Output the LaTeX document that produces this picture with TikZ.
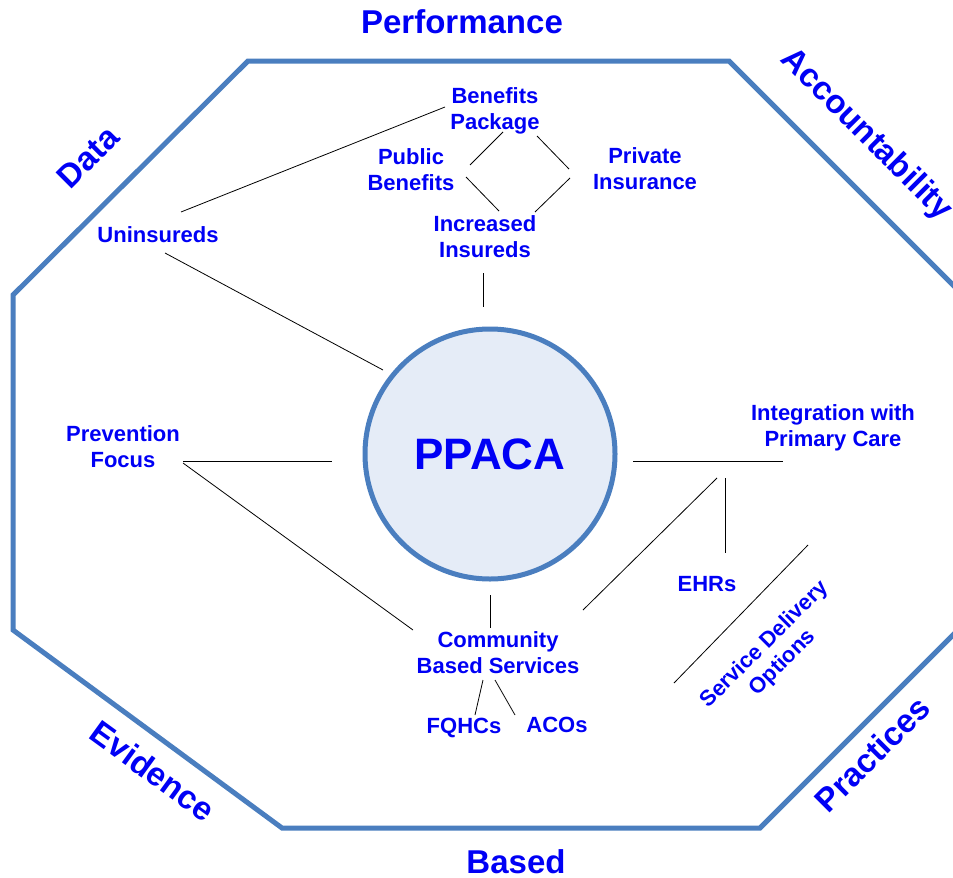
\documentclass[tikz,border=0pt]{standalone}
\usepackage{fontspec}
\setmainfont{Liberation Sans}
\usepackage{tikz}
\definecolor{octblue}{HTML}{4A7EBF}
\definecolor{ppfill}{HTML}{E5ECF7}
\definecolor{txtblue}{HTML}{0000F5}
\tikzset{
  lbl/.style={text=txtblue,font=\bfseries\fontsize{16.5}{19.5}\selectfont,align=center,inner sep=1pt},
  side/.style={text=txtblue,font=\bfseries\fontsize{24.75}{30}\selectfont,inner sep=0pt},
  link/.style={draw=black,line width=0.6pt}
}

\begin{document}
\begin{tikzpicture}[x=0.75pt,y=-0.75pt]
  \useasboundingbox (0,0) rectangle (953,878);
  \clip (0,0) rectangle (953,878);

  % octagon frame
  \draw[octblue,line width=3.75pt,line join=miter]
    (248,61) -- (729,61) -- (975,307) -- (975,613) -- (760,828)
    -- (282,828) -- (13,630) -- (13,295) -- cycle;

  % words round the frame
  \node[side] (perf) at (462,22) {Performance};
  \node[side,rotate=45] (data) at (88,157) {Data};
  \node[side,rotate=-45] (acct) at (866,135) {Accountability};
  \node[side,rotate=-36] (evid) at (153,771) {Evidence};
  \node[side] (based) at (516,862) {Based};
  \node[side,rotate=45] (prac) at (872,754) {Practices};

  % centre
  \node[circle,draw=octblue,line width=3.75pt,fill=ppfill,minimum size=187.5pt,
        text=txtblue,font=\bfseries\fontsize{33}{40}\selectfont] (ppaca) at (490,454) {PPACA};

  \node[lbl] (benpkg) at (495,111) {Benefits\\Package};
  \node[lbl] (pubben) at (411,170) {Public\\Benefits};
  \node[lbl] (privins) at (645,169) {Private\\Insurance};
  \node[lbl] (incins) at (485,237) {Increased\\Insureds};
  \node[lbl] (unins) at (158,235) {Uninsureds};
  \node[lbl] (prev) at (123,447) {Prevention\\Focus};
  \node[lbl] (integ) at (833,428) {Integration with\\Primary Care};
  \node[lbl] (comm) at (498,653) {Community\\Based Services};
  \node[lbl] (fqhc) at (464,728) {FQHCs};
  \node[lbl] (aco) at (557,725) {ACOs};
  \node[lbl] (ehr) at (707,584) {EHRs};
  \node[lbl,rotate=45] (sdo) at (774,654) {Service Delivery\\Options};

  % connectors
  \draw[link] ([shift={(23,-23)}]unins.center) -- ([shift={(-50,-4)}]benpkg.center);
  \draw[link] ([shift={(7,18)}]unins.center) -- ([shift={(-107,-84)}]ppaca.center);
  \draw[link] ([shift={(59,-5)}]pubben.center) -- ([shift={(8,21)}]benpkg.center);
  \draw[link] ([shift={(42,25)}]benpkg.center) -- ([shift={(-76,0)}]privins.center);
  \draw[link] ([shift={(-75,9)}]privins.center) -- ([shift={(50,-25)}]incins.center);
  \draw[link] ([shift={(55,7)}]pubben.center) -- ([shift={(14,-26)}]incins.center);
  \draw[link] ([shift={(-2,36)}]incins.center) -- ([shift={(-7,-147)}]ppaca.center);
  \draw[link] ([shift={(60,14)}]prev.center) -- ([shift={(-158,7)}]ppaca.center);
  \draw[link] ([shift={(60,16)}]prev.center) -- ([shift={(-85,-23)}]comm.center);
  \draw[link] ([shift={(0,141)}]ppaca.center) -- ([shift={(-8,-25)}]comm.center);
  \draw[link] ([shift={(-15,27)}]comm.center) -- ([shift={(11,-13)}]fqhc.center);
  \draw[link] ([shift={(-3,27)}]comm.center) -- ([shift={(-42,-10)}]aco.center);
  \draw[link] ([shift={(143,7)}]ppaca.center) -- ([shift={(-50,33)}]integ.center);
  \draw[link] ([shift={(-116,50)}]integ.center) -- ([shift={(85,-43)}]comm.center);
  \draw[link] ([shift={(-108,50)}]integ.center) -- ([shift={(18,-31)}]ehr.center);
  \draw[link] ([shift={(34,-109)}]sdo.center) -- ([shift={(-100,29)}]sdo.center);
\end{tikzpicture}
\end{document}
